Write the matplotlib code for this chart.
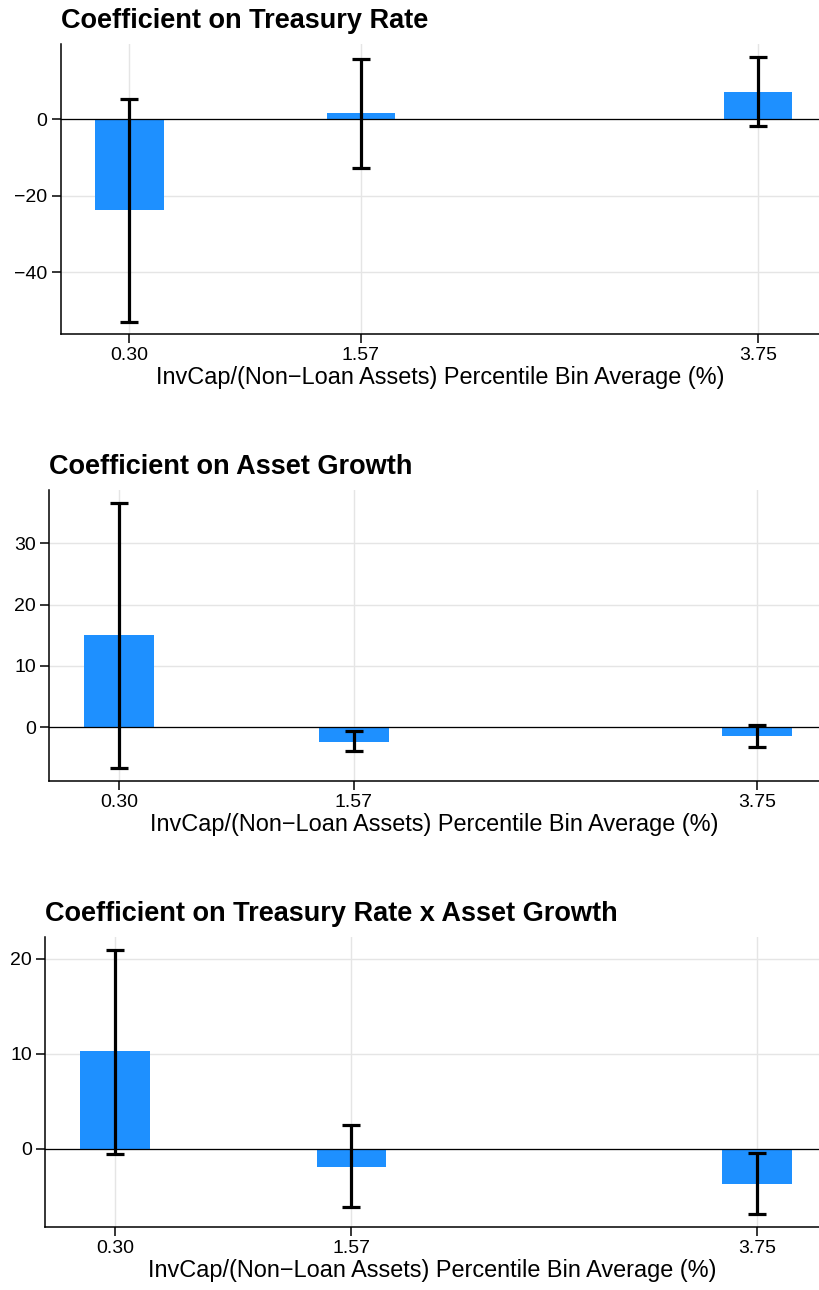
import numpy as np
import matplotlib
matplotlib.use("Agg")
import matplotlib.pyplot as plt

plt.rcParams['font.family'] = ['Liberation Sans', 'DejaVu Sans']

# bin averages (x positions) and tick labels
bins = [0.30, 1.57, 3.75]
bin_labels = ["0.30", "1.57", "3.75"]

# panel 1: treasury rate
treas_coef = [-23.7, 1.5, 7.05]
treas_lo = [-52.9, -12.8, -1.8]
treas_hi = [5.3, 15.7, 16.2]

# panel 2: asset growth
growth_coef = [15.06, -2.35, -1.47]
growth_lo = [-6.6, -3.9, -3.2]
growth_hi = [36.6, -0.6, 0.37]

# panel 3: interaction
inter_coef = [10.26, -1.89, -3.68]
inter_lo = [-0.56, -6.1, -6.83]
inter_hi = [20.9, 2.56, -0.38]

titles = ["Coefficient on Treasury Rate",
          "Coefficient on Asset Growth",
          "Coefficient on Treasury Rate x Asset Growth"]
xlabel = "InvCap/(Non\u2212Loan Assets) Percentile Bin Average (%)"

panels = [
    (treas_coef, treas_lo, treas_hi, [-40, -20, 0], (-56.1, 19.6),
     [0.0738, 0.7411, 0.9262, 0.2248]),
    (growth_coef, growth_lo, growth_hi, [0, 10, 20, 30], (-8.7, 38.7),
     [0.0598, 0.3948, 0.9402, 0.2254]),
    (inter_coef, inter_lo, inter_hi, [0, 10, 20], (-8.2, 22.3),
     [0.0549, 0.0488, 0.9451, 0.2251]),
]

fig = plt.figure(figsize=(8.2, 12.9), dpi=100)

for (coef, lo, hi, yt, ylim, rect), title in zip(panels, titles):
    ax = fig.add_axes(rect)
    coef = np.array(coef)
    err = [coef - np.array(lo), np.array(hi) - coef]
    ax.bar(bins, coef, width=0.375, color="#1E90FF", zorder=2)
    ax.axhline(0, color="black", lw=0.9, zorder=3)
    ax.errorbar(bins, coef, yerr=err, fmt="none", ecolor="black",
                elinewidth=2.3, capsize=6.3, capthick=2.3, zorder=4)
    ax.set_xlim(-0.078, 4.09)
    ax.set_ylim(*ylim)
    ax.set_xticks(bins)
    ax.set_xticklabels(bin_labels)
    ax.set_yticks(yt)
    ax.set_yticklabels([str(v).replace("-", "\u2212") for v in yt])
    ax.grid(True, color="#E5E5E5", lw=1.0, zorder=0)
    ax.set_axisbelow(True)
    for s in ["top", "right"]:
        ax.spines[s].set_visible(False)
    for s in ["left", "bottom"]:
        ax.spines[s].set_linewidth(1.1)
    ax.tick_params(length=6.5, width=1.1, labelsize=14, colors="black",
                   pad=3)
    ax.set_xlabel(xlabel, fontsize=16.9, labelpad=1.5)
    ax.set_title(title, loc="left", fontsize=19.5, fontweight="bold", pad=11.5)

fig.savefig("out.png", dpi=100)
